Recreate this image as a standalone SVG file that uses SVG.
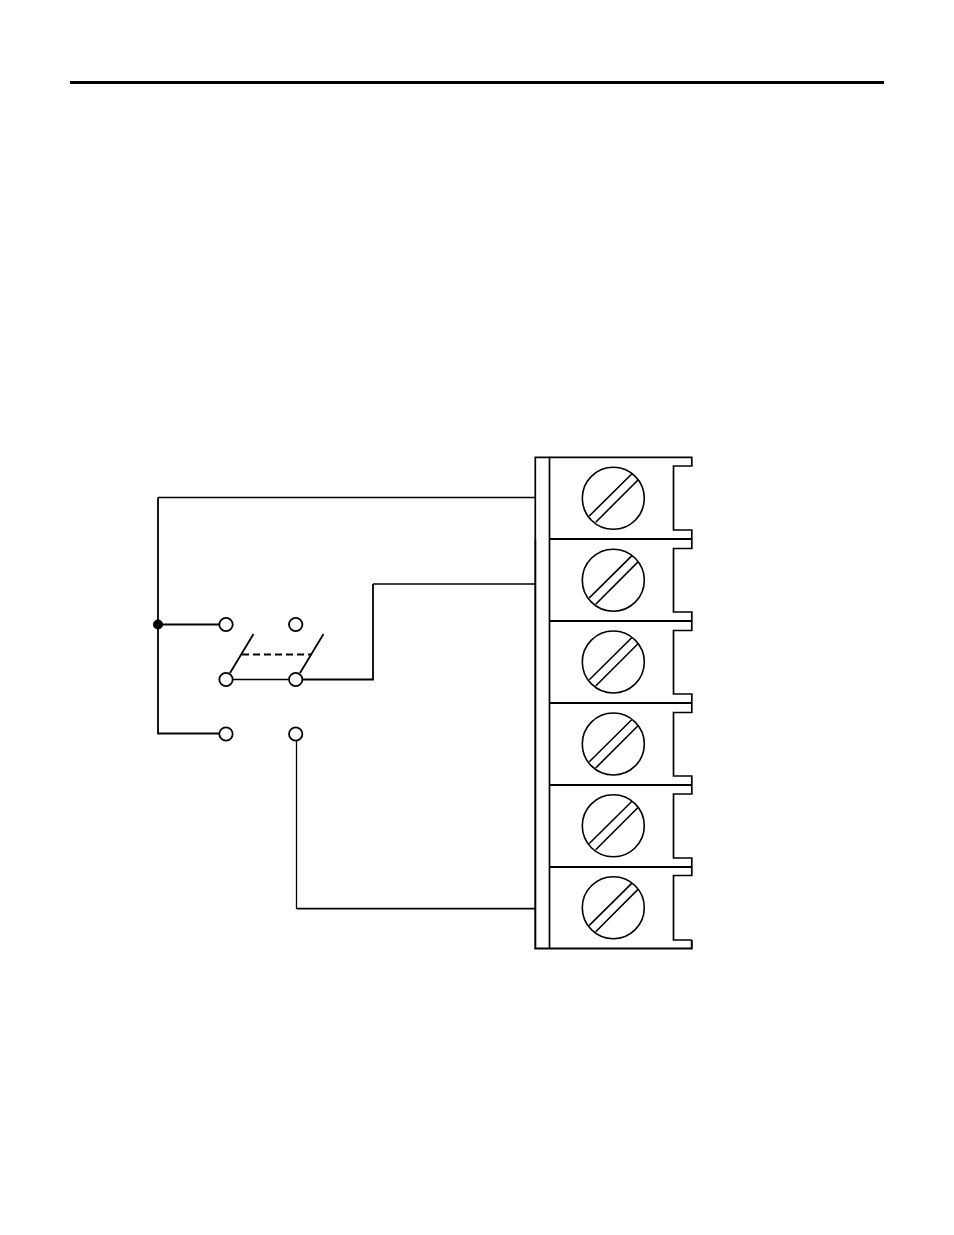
<svg xmlns="http://www.w3.org/2000/svg" width="954" height="1235" viewBox="0 0 954 1235">
<style>
.w{fill:none;stroke:#000;stroke-width:1.8}
.t{fill:none;stroke:#000;stroke-width:1.3}
.o{fill:none;stroke:#000;stroke-width:1.7}
.d{fill:none;stroke:#000;stroke-width:2}
.c{fill:#fff;stroke:#000;stroke-width:1.8}
.s{fill:none;stroke:#000;stroke-width:1.6}
</style>
<defs>
<g id="screw">
<circle class="s" cx="0" cy="0" r="31"/>
<path class="s" d="M-24 17.700L18.400-24.300M-17.600 24L24.700-18.300"/>
</g>
</defs>
<rect width="954" height="1235" fill="#fff"/>
<path id="rule" d="M70 82.500H884" stroke="#000" stroke-width="3" fill="none"/>
<g id="connectors">
<path class="t" d="M535 497.500H158"/>
<path class="w" d="M158 497.500V733.500H219"/>
<path class="w" d="M158 624.500H219"/>
<path class="w" d="M303 679.500H373V584"/>
<path class="t" d="M373 584H535"/>
<path class="t" d="M233 679.500H288"/>
<path class="t" d="M296.500 741V909"/>
<path class="w" d="M297 908.700H535"/>
<path class="w" d="M230 673L253.500 634M300 673L323.500 634"/>
<path class="w" d="M242 654.500H311" stroke-dasharray="7 4"/>
</g>
<g id="junction"><circle cx="158" cy="624.500" r="5" fill="#000"/></g>
<g id="terminals">
<circle class="c" cx="226" cy="624.500" r="6.700"/>
<circle class="c" cx="295.700" cy="624.500" r="6.700"/>
<circle class="c" cx="226" cy="679.500" r="6.700"/>
<circle class="c" cx="295.700" cy="679.500" r="6.700"/>
<circle class="c" cx="226" cy="734" r="6.700"/>
<circle class="c" cx="295.700" cy="734" r="6.700"/>
</g>
<g id="terminal-block">
<path class="o" d="M535.300 539V457.300H549.500V948.500"/>
<path class="d" d="M535.300 539V948.500H691.800V940"/>
<path class="o" d="M549.500 457.300H691.800V466H673.500V530H691.800V548.500H673.500V612H691.800V630.500H673.500V694H691.800V712.500H673.500V776H691.800V794H673.500V858H691.800V875.500H673.500V940H691.800"/>
<path class="d" d="M549.500 539H692M549.500 621H692M549.500 703H692M549.500 785H692M549.500 867H692"/>
</g>
<g id="screw-1"><use href="#screw" x="613.300" y="498.300"/></g>
<g id="screw-2"><use href="#screw" x="613.300" y="580.200"/></g>
<g id="screw-3"><use href="#screw" x="613.300" y="662"/></g>
<g id="screw-4"><use href="#screw" x="613.300" y="744"/></g>
<g id="screw-5"><use href="#screw" x="613.300" y="825.800"/></g>
<g id="screw-6"><use href="#screw" x="613.300" y="907.700"/></g>
</svg>
